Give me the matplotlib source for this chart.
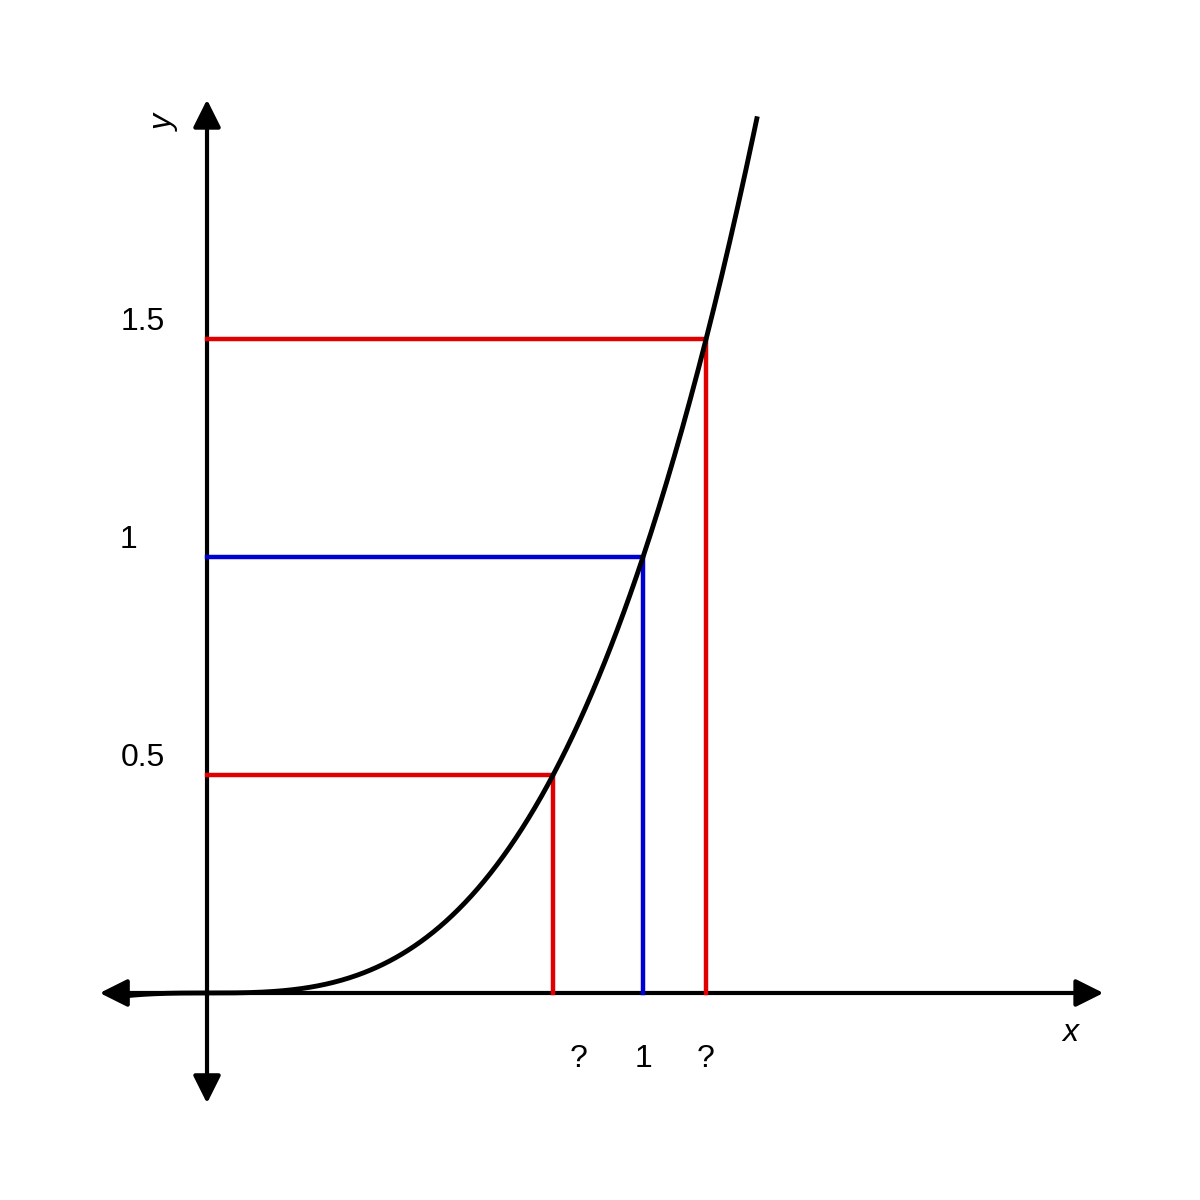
import numpy as np
import matplotlib
matplotlib.use("Agg")
import matplotlib.pyplot as plt

# Data
levels = [0.5, 1.0, 1.5]
level_colors = ["#e00000", "#0000d0", "#e00000"]
y_tick_labels = ["0.5", "1", "1.5"]
x_tick_labels = ["?", "1", "?"]
x_tick_pos = [0.853, 1.0, 1.144]
curve_range = [-0.19, 1.261]

plt.rcParams['font.family'] = ['Liberation Sans', 'DejaVu Sans']

fig = plt.figure(figsize=(12, 12), dpi=100)
ax = fig.add_axes([0, 0, 1, 1])
ax.set_xlim(-0.4748, 2.2775)
ax.set_ylim(-0.4748, 2.2775)
ax.axis('off')

# Axes with arrows
ap = dict(arrowstyle='<|-|>', mutation_scale=42, lw=3, color='black',
          shrinkA=0, shrinkB=0)
ax.annotate('', xy=(-0.246, 0), xytext=(2.056, 0), arrowprops=ap, zorder=2)
ax.annotate('', xy=(0, -0.253), xytext=(0, 2.049), arrowprops=ap, zorder=2)

# Level lines
for lv, c in zip(levels, level_colors):
    xv = lv ** (1 / 3)
    ax.plot([0, xv, xv], [lv, lv, 0], color=c, lw=3.2, zorder=3,
            solid_joinstyle='miter')

# Curve y = x^3
xs = np.linspace(curve_range[0], curve_range[1], 400)
ax.plot(xs, xs ** 3, color='black', lw=3.5, zorder=4)

# Labels
fs = 23
for lv, lab in zip(levels, y_tick_labels):
    ax.text(-0.147 if len(lab) > 1 else -0.181, lv + 0.040, lab,
            fontsize=fs, ha='center', va='center')
for xp, lab in zip(x_tick_pos, x_tick_labels):
    ax.text(xp, -0.152, lab, fontsize=fs, ha='center', va='center')

ax.text(1.979, -0.092, 'x', fontsize=fs, style='italic', ha='center', va='center')
ax.text(-0.096, 1.995, 'y', fontsize=fs, style='italic', ha='center', va='center',
        rotation=90)

fig.savefig('out.png', dpi=100, facecolor='white')
